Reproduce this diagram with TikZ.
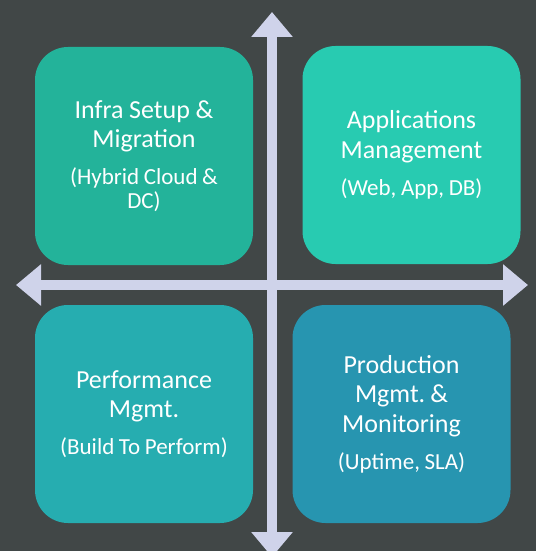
\documentclass[tikz,border=0pt]{standalone}
\usepackage{fontspec}
\setmainfont{Carlito}
\usetikzlibrary{arrows.meta}

\definecolor{bgcol}{HTML}{414747}
\definecolor{axcol}{HTML}{CFD3EA}
\definecolor{infracol}{HTML}{23B39A}
\definecolor{appscol}{HTML}{28CBB1}
\definecolor{perfcol}{HTML}{26ADB0}
\definecolor{prodcol}{HTML}{2795B0}

\newcommand{\hd}{\fontsize{26}{29.5}\selectfont\spaceskip=0.22em}
\newcommand{\sbt}{\fontsize{23}{24}\selectfont\spaceskip=0.2em}

\begin{document}
\begin{tikzpicture}[x=1pt,y=-1pt,
    tile/.style={minimum width=218pt,minimum height=218pt,rounded corners=33pt,
      inner sep=0pt,align=center,text width=214pt,text=white},
    axis/.style={line width=10pt,draw=axcol,
      {Triangle[width=40pt,length=25pt]}-{Triangle[width=40pt,length=25pt]}}]
    \useasboundingbox[fill=bgcol] (0,0) rectangle (536,551);

    % the two axes
    \coordinate (N) at (272,12);
    \coordinate (S) at (272,557);
    \coordinate (W) at (16,285);
    \coordinate (E) at (528,285);
    \draw[axis] (W) -- (E);
    \draw[axis] (S) -- (N);

    % the four quadrants
    \node[tile,fill=infracol] (infra) at (144,156)
    {{\hd Infra Setup \&\\Migration\par}\vspace{13pt}{\sbt (Hybrid Cloud \&\\DC)\par}};
    \node[tile,fill=appscol] (apps) at (411.5,155)
    {{\hd Applications\\Management\par}\vspace{13pt}{\sbt (Web, App, DB)\par}};
    \node[tile,fill=perfcol] (perf) at (144,414)
    {{\hd Performance\\Mgmt.\par}\vspace{13pt}{\sbt (Build To Perform)\par}};
    \node[tile,fill=prodcol] (prod) at (401.5,414)
    {{\hd Production\\Mgmt. \&\\Monitoring\par}\vspace{13pt}{\sbt (Uptime, SLA)\par}};
  \end{tikzpicture}
\end{document}
